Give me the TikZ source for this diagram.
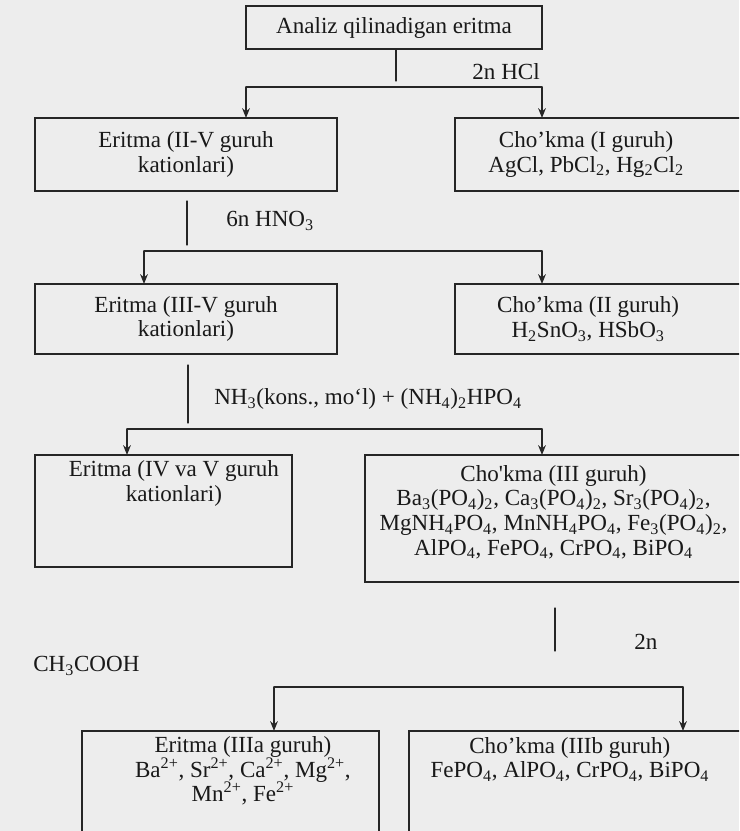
\documentclass[tikz,border=0pt]{standalone}
\usepackage{fontspec}
\setmainfont{Liberation Serif}
\usepackage{tkz-euclide}
\usetikzlibrary{arrows.meta}

\newcommand*{\chsub}[1]{\textsubscript{#1}}
\newcommand*{\chsup}[1]{\textsuperscript{#1}}

\tikzset{
	frame/.style={draw=black!85, line width=0.9pt, inner sep=0pt},
	txt/.style={align=center, inner sep=0pt, text=black!90, font=\fontsize{16.4}{17.5}\selectfont},
	reagent/.style={inner sep=0pt, text=black!90, font=\fontsize{16.4}{17.5}\selectfont},
	link/.style={line width=0.9pt, color=black!85},
	arr/.style={link, -{Stealth[length=7pt, width=5.5pt]}}
}

\begin{document}
\begin{tikzpicture}[x=0.025cm, y=0.025cm]
		\useasboundingbox (0,0) rectangle (739,-831);
		\clip (0,0) rectangle (739,-831);
		\fill[black!7] (0,0) rectangle (739,-831);

		\node[frame, txt, minimum width=7.4cm, minimum height=1.075cm] (analiz) at (394,-27.5) {Analiz qilinadigan eritma};

		\node[frame, txt, minimum width=7.55cm, minimum height=1.825cm] (eritmaA) at (186,-154.5) {Eritma (II-V guruh\\kationlari)};
		\node[frame, minimum width=7.175cm, minimum height=1.825cm,
			label={[txt, xshift=-0.31cm]center:{Cho’kma (I guruh)\\AgCl, PbCl\chsub{2}, Hg\chsub{2}Cl\chsub{2}}}] (chokmaI) at (598.5,-154.5) {};

		\node[frame, txt, minimum width=7.55cm, minimum height=1.75cm] (eritmaB) at (186,-319) {Eritma (III-V guruh\\kationlari)};
		\node[frame, minimum width=7.175cm, minimum height=1.75cm,
			label={[txt, xshift=-0.26cm]center:{Cho’kma (II guruh)\\H\chsub{2}SnO\chsub{3}, HSbO\chsub{3}}}] (chokmaII) at (598.5,-319) {};

		\node[frame, minimum width=6.425cm, minimum height=2.8cm,
			label={[txt, xshift=0.26cm, yshift=0.69cm]center:{Eritma (IV va V guruh\\kationlari)}}] (eritmaC) at (163.5,-511) {};
		\node[frame, minimum width=9.425cm, minimum height=3.175cm,
			label={[txt, yshift=0.16cm]center:{Cho\textquotesingle kma (III guruh)\\Ba\chsub{3}(PO\chsub{4})\chsub{2}, Ca\chsub{3}(PO\chsub{4})\chsub{2}, Sr\chsub{3}(PO\chsub{4})\chsub{2},\\MgNH\chsub{4}PO\chsub{4}, MnNH\chsub{4}PO\chsub{4}, Fe\chsub{3}(PO\chsub{4})\chsub{2},\\AlPO\chsub{4}, FePO\chsub{4}, CrPO\chsub{4}, BiPO\chsub{4}}}] (chokmaIII) at (553.5,-518.5) {};

		\node[frame, minimum width=7.425cm, minimum height=3.475cm,
			label={[txt, xshift=0.31cm, yshift=0.74cm]center:{Eritma (IIIa guruh)\\Ba\chsup{2+}, Sr\chsup{2+}, Ca\chsup{2+}, Mg\chsup{2+},\\Mn\chsup{2+}, Fe\chsup{2+}}}] (eritmaIIIa) at (230.5,-800.5) {};
		\node[frame, minimum width=8.325cm, minimum height=3.475cm,
			label={[txt, xshift=-0.14cm, yshift=1.025cm]center:{Cho’kma (IIIb guruh)\\FePO\chsub{4}, AlPO\chsub{4}, CrPO\chsub{4}, BiPO\chsub{4}}}] (chokmaIIIb) at (575.5,-800.5) {};

		% 2n HCl
		\tkzDefPoint(396,-50){s1}  \tkzDefPoint(396,-81){e1}
		\tkzDefPoint(246,-87){l1}  \tkzDefPoint(542,-87){r1}
		\tkzDefPoint(246,-118){a1} \tkzDefPoint(542,-118){b1}
		\tkzDrawSegment[link](s1,e1)
		\tkzDrawSegment[link](l1,r1)
		\tkzDrawSegments[arr](l1,a1 r1,b1)
		\node[reagent, anchor=east] (hcl) at (540,-72) {2n HCl};

		% 6n HNO3
		\tkzDefPoint(187,-201){s2} \tkzDefPoint(187,-245){e2}
		\tkzDefPoint(144,-251){l2} \tkzDefPoint(542,-251){r2}
		\tkzDefPoint(144,-284){a2} \tkzDefPoint(542,-284){b2}
		\tkzDrawSegment[link](s2,e2)
		\tkzDrawSegment[link](l2,r2)
		\tkzDrawSegments[arr](l2,a2 r2,b2)
		\node[reagent, anchor=west] (hno) at (226,-221) {6n HNO\chsub{3}};

		% NH3 + (NH4)2HPO4
		\tkzDefPoint(188,-365){s3} \tkzDefPoint(188,-423){e3}
		\tkzDefPoint(127,-429){l3} \tkzDefPoint(542,-429){r3}
		\tkzDefPoint(127,-455){a3} \tkzDefPoint(542,-455){b3}
		\tkzDrawSegment[link](s3,e3)
		\tkzDrawSegment[link](l3,r3)
		\tkzDrawSegments[arr](l3,a3 r3,b3)
		\node[reagent, anchor=west] (ammiak) at (214,-399) {NH\chsub{3}(kons., mo‘l) + (NH\chsub{4})\chsub{2}HPO\chsub{4}};

		% 2n CH3COOH
		\tkzDefPoint(555,-608){s4} \tkzDefPoint(555,-651){e4}
		\tkzDefPoint(274,-687){l4} \tkzDefPoint(683,-687){r4}
		\tkzDefPoint(274,-731){a4} \tkzDefPoint(683,-731){b4}
		\tkzDrawSegment[link](s4,e4)
		\tkzDrawSegment[link](l4,r4)
		\tkzDrawSegments[arr](l4,a4 r4,b4)
		\node[reagent, anchor=west] (twon) at (634,-642) {2n};
		\node[reagent, anchor=west] (sirka) at (33,-666) {CH\chsub{3}COOH};
	\end{tikzpicture}
\end{document}
